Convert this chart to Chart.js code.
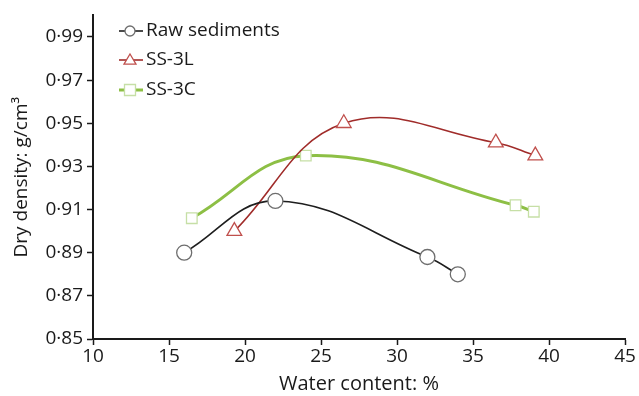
<!DOCTYPE html>
<html>
<head>
<meta charset="utf-8">
<script src="https://cdn.jsdelivr.net/npm/chart.js@4.4.1/dist/chart.umd.min.js"></script>
<style>
  html, body { margin: 0; padding: 0; background: #fff; }
  #wrap { width: 639px; height: 396px; position: relative; }
</style>
</head>
<body>
<div id="wrap"><canvas id="c" width="639" height="396"></canvas></div>
<script>
// ---- Data ----
const seriesNames = ['Raw sediments', 'SS-3L', 'SS-3C'];
const rawX = [16, 22, 32, 34];
const rawY = [0.890, 0.914, 0.888, 0.880];
const ss3lX = [19.3, 26.5, 36.5, 39.1];
const ss3lY = [0.900, 0.950, 0.941, 0.935];
const ss3cX = [16.5, 24.0, 37.8, 39.0];
const ss3cY = [0.906, 0.935, 0.912, 0.909];
const yTickValues = [0.85, 0.87, 0.89, 0.91, 0.93, 0.95, 0.97, 0.99];
const yTickLabels = ['0·85', '0·87', '0·89', '0·91', '0·93', '0·95', '0·97', '0·99'];
const xTickValues = [10, 15, 20, 25, 30, 35, 40, 45];
const xTickLabels = ['10', '15', '20', '25', '30', '35', '40', '45'];
const xTitle = 'Water content: %';
const yTitle = 'Dry density: g/cm³';

const FONT = '"Open Sans", "Noto Sans", sans-serif';
const zip = (xs, ys) => xs.map((x, i) => ({ x: x, y: ys[i] }));

const styles = [
  { line: '#1e1e1e', width: 1.6, marker: 'circle', border: '#6e6e6e', r: 7.5, lr: 5 },
  { line: '#a02c2a', width: 1.6, marker: 'triangle', border: '#c0504d', r: 8.5, lr: 6 },
  { line: '#8dbf45', width: 3, marker: 'rect', border: '#c6dfa6', r: 7.5, lr: 5.5 }
];
const dataPairs = [zip(rawX, rawY), zip(ss3lX, ss3lY), zip(ss3cX, ss3cY)];

const datasets = dataPairs.map((d, i) => ({
  label: seriesNames[i],
  data: d,
  borderColor: styles[i].line,
  borderWidth: styles[i].width,
  backgroundColor: '#ffffff',
  pointStyle: styles[i].marker,
  pointRadius: styles[i].r,
  pointHoverRadius: styles[i].r,
  pointBorderColor: styles[i].border,
  pointBorderWidth: 1.3,
  pointBackgroundColor: '#ffffff',
  tension: 0.4,
  fill: false
}));

const legendPlugin = {
  id: 'customLegend',
  afterDraw(chart) {
    const ctx = chart.ctx;
    const rows = [31, 60, 90];
    ctx.save();
    styles.forEach((s, i) => {
      const y = rows[i];
      ctx.strokeStyle = s.line;
      ctx.lineWidth = s.width;
      ctx.beginPath();
      ctx.moveTo(119, y);
      ctx.lineTo(143, y);
      ctx.stroke();
      ctx.fillStyle = '#ffffff';
      ctx.strokeStyle = s.border;
      ctx.lineWidth = 1.3;
      ctx.beginPath();
      if (s.marker === 'circle') {
        ctx.arc(130, y, s.lr, 0, Math.PI * 2);
      } else if (s.marker === 'triangle') {
        ctx.moveTo(130, y - s.lr);
        ctx.lineTo(130 + s.lr, y + s.lr * 0.7);
        ctx.lineTo(130 - s.lr, y + s.lr * 0.7);
        ctx.closePath();
      } else {
        ctx.rect(130 - s.lr, y - s.lr, s.lr * 2, s.lr * 2);
      }
      ctx.fill();
      ctx.stroke();
      ctx.fillStyle = '#1a1a1a';
      ctx.font = '19px ' + FONT;
      ctx.textBaseline = 'middle';
      ctx.textAlign = 'left';
      ctx.fillText(seriesNames[i], 146, y);
    });
    ctx.restore();
  }
};

new Chart(document.getElementById('c'), {
  type: 'line',
  data: { datasets: datasets },
  plugins: [legendPlugin],
  options: {
    responsive: false,
    animation: false,
    layout: { padding: { top: 12, right: 14, left: 0, bottom: 0 } },
    plugins: { legend: { display: false }, tooltip: { enabled: false } },
    scales: {
      x: {
        type: 'linear',
        min: 10, max: 45,
        afterBuildTicks: (s) => { s.ticks = xTickValues.map(v => ({ value: v })); },
        afterFit: (s) => { s.height = 57; },
        border: { display: true, color: '#1a1a1a', width: 2 },
        grid: { display: true, drawOnChartArea: false, drawTicks: true, tickLength: 6, tickWidth: 1.5, tickColor: '#1a1a1a' },
        ticks: {
          color: '#1a1a1a', font: { family: FONT, size: 19 }, padding: 0, maxRotation: 0,
          callback: (v) => { const i = xTickValues.indexOf(v); return i >= 0 ? xTickLabels[i] : ''; }
        },
        title: { display: true, text: xTitle, color: '#1a1a1a', font: { family: FONT, size: 20 }, padding: { top: 0, bottom: 0 } }
      },
      y: {
        type: 'linear',
        min: 0.85, max: 1.0,
        afterBuildTicks: (s) => { s.ticks = yTickValues.map(v => ({ value: v })); },
        afterFit: (s) => { s.width = 93; },
        border: { display: true, color: '#1a1a1a', width: 2 },
        grid: { display: true, drawOnChartArea: false, drawTicks: true, tickLength: 6, tickWidth: 1.5, tickColor: '#1a1a1a' },
        ticks: {
          color: '#1a1a1a', font: { family: FONT, size: 19 }, padding: 4,
          callback: (v) => { const i = yTickValues.findIndex(t => Math.abs(t - v) < 1e-9); return i >= 0 ? yTickLabels[i] : ''; }
        },
        title: { display: true, text: yTitle, color: '#1a1a1a', font: { family: FONT, size: 19 }, padding: { top: 10, bottom: 0 } }
      }
    }
  }
});
</script>
</body>
</html>
